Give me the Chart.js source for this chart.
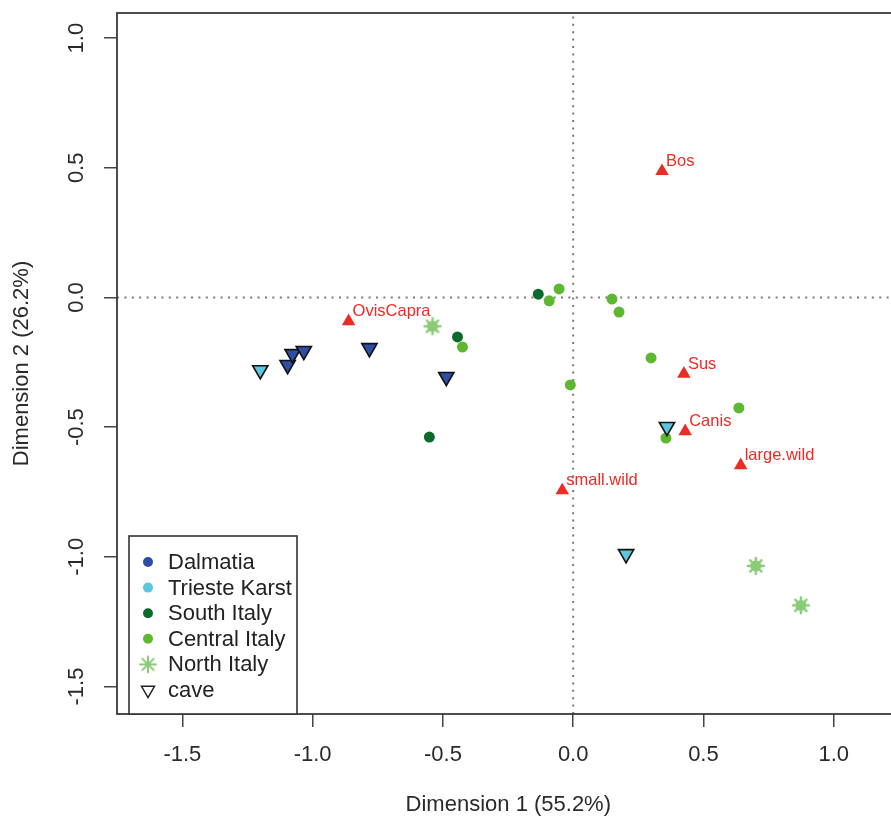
<!DOCTYPE html>
<html>
<head>
<meta charset="utf-8">
<script src="https://cdn.jsdelivr.net/npm/chart.js@4.4.0/dist/chart.umd.min.js"></script>
<style>
  html, body { margin: 0; padding: 0; background: #fff; overflow: hidden; }
  #wrap { width: 891px; height: 821px; overflow: hidden; }
</style>
</head>
<body>
<div id="wrap"><canvas id="mcaChart" width="910" height="821"></canvas></div>
<script>
    "use strict";

    // axes
    var xTicks = [-1.5, -1.0, -0.5, 0.0, 0.5, 1.0];
    var yTicks = [-1.5, -1.0, -0.5, 0.0, 0.5, 1.0];
    var xLimits = [-1.751, 1.253];
    var yLimits = [-1.606, 1.097];

    // sites
    var dalmatiaCaveX = [-1.096, -1.077, -1.034, -0.782, -0.487];
    var dalmatiaCaveY = [-0.260, -0.218, -0.206, -0.195, -0.306];
    var triesteCaveX = [-1.201, 0.360, 0.203];
    var triesteCaveY = [-0.280, -0.499, -0.989];
    var southItalyX = [-0.444, -0.552, -0.134];
    var southItalyY = [-0.152, -0.538, 0.013];
    var centralItalyX = [-0.425, -0.092, -0.054, 0.149, 0.176, 0.299, -0.011, 0.636, 0.356];
    var centralItalyY = [-0.191, -0.013, 0.033, -0.006, -0.056, -0.233, -0.337, -0.426, -0.542];
    var northItalyX = [-0.540, 0.701, 0.874];
    var northItalyY = [-0.111, -1.035, -1.187];

    // variables
    var varNames = ['Bos', 'OvisCapra', 'Sus', 'Canis', 'large.wild', 'small.wild'];
    var varX = [0.341, -0.862, 0.425, 0.430, 0.643, -0.042];
    var varY = [0.487, -0.092, -0.294, -0.516, -0.647, -0.744];

    // legend
    var legendLabels = ['Dalmatia', 'Trieste Karst', 'South Italy', 'Central Italy', 'North Italy', 'cave'];
    var legendShapes = ['circle', 'circle', 'circle', 'circle', 'star', 'cave'];

    var COLORS = {
        dalmatia: '#2E4EA6',
        trieste: '#5CC6DC',
        south: '#0D6A2D',
        central: '#5DB731',
        north: '#8BCB78',
        red: '#EC2B25',
        ink: '#333333'
    };
    var legendColors = [COLORS.dalmatia, COLORS.trieste, COLORS.south, COLORS.central, COLORS.north, '#222'];
    var FONT = 'Liberation Sans, Arial, Helvetica, sans-serif';

    function toPoints(xs, ys) {
        return xs.map(function (x, i) { return {x: x, y: ys[i]}; });
    }

    function makeStar(color, rCore, rSpike, lw) {
        var c = document.createElement('canvas');
        var s = Math.ceil(rSpike * 2 + 4);
        c.width = s;
        c.height = s;
        var g = c.getContext('2d');
        var m = s / 2;
        g.strokeStyle = color;
        g.fillStyle = color;
        g.lineWidth = lw;
        g.lineCap = 'round';
        for (var k = 0; k < 8; k++) {
            var a = k * Math.PI / 4;
            g.beginPath();
            g.moveTo(m, m);
            g.lineTo(m + rSpike * Math.cos(a), m + rSpike * Math.sin(a));
            g.stroke();
        }
        if (rCore > 0) {
            g.beginPath();
            g.arc(m, m, rCore, 0, 2 * Math.PI);
            g.fill();
        }
        return c;
    }

    var starPoint = makeStar(COLORS.north, 5.5, 8, 2.4);

    function caveSet(label, xs, ys, color, order) {
        return {
            label: label,
            data: toPoints(xs, ys),
            pointStyle: 'triangle',
            rotation: 180,
            pointRadius: 8.8,
            backgroundColor: color,
            borderColor: '#111',
            borderWidth: 1.6,
            order: order
        };
    }

    function dotsSet(label, xs, ys, color, order) {
        return {
            label: label,
            data: toPoints(xs, ys),
            pointStyle: 'circle',
            pointRadius: 5.5,
            backgroundColor: color,
            borderColor: color,
            borderWidth: 0,
            order: order
        };
    }

    function refLine(pts) {
        return {
            type: 'line',
            data: pts,
            borderColor: '#7a7a7a',
            borderWidth: 2,
            borderDash: [2, 5.4],
            pointRadius: 0,
            fill: false,
            order: 9
        };
    }

    var datasets = [
        {
            label: 'variables',
            data: toPoints(varX, varY),
            pointStyle: 'triangle',
            pointRadius: 7.8,
            backgroundColor: COLORS.red,
            borderColor: COLORS.red,
            borderWidth: 0,
            order: 0
        },
        caveSet('Trieste Karst cave', triesteCaveX, triesteCaveY, COLORS.trieste, 1),
        caveSet('Dalmatia cave', dalmatiaCaveX, dalmatiaCaveY, COLORS.dalmatia, 2),
        {
            label: 'North Italy',
            data: toPoints(northItalyX, northItalyY),
            pointStyle: starPoint,
            pointRadius: 8,
            order: 3
        },
        dotsSet('Central Italy', centralItalyX, centralItalyY, COLORS.central, 4),
        dotsSet('South Italy', southItalyX, southItalyY, COLORS.south, 5),
        refLine([{x: xLimits[0], y: 0}, {x: xLimits[1], y: 0}]),
        refLine([{x: 0, y: yLimits[0]}, {x: 0, y: yLimits[1]}])
    ];

    var boxPlugin = {
        id: 'plotBox',
        afterDatasetsDraw: function (chart) {
            var a = chart.chartArea;
            var ctx = chart.ctx;
            ctx.save();
            ctx.strokeStyle = '#3a3a3a';
            ctx.lineWidth = 1.8;
            ctx.strokeRect(a.left, a.top, a.right - a.left, a.bottom - a.top);
            ctx.restore();
        }
    };

    var varLabelPlugin = {
        id: 'varLabels',
        afterDatasetsDraw: function (chart) {
            var meta = chart.getDatasetMeta(0);
            var ctx = chart.ctx;
            ctx.save();
            ctx.font = '16.5px ' + FONT;
            ctx.fillStyle = COLORS.red;
            ctx.textAlign = 'left';
            ctx.textBaseline = 'alphabetic';
            meta.data.forEach(function (pt, i) {
                ctx.fillText(varNames[i], pt.x + 4, pt.y - 5);
            });
            ctx.restore();
        }
    };

    var legendStar = makeStar(COLORS.north, 0, 8, 2);

    var legendPlugin = {
        id: 'boxLegend',
        afterDraw: function (chart) {
            var a = chart.chartArea;
            var ctx = chart.ctx;
            var left = a.left + 12, top = 536, right = left + 168, bottom = a.bottom;
            var rowH = 25.6;
            ctx.save();
            ctx.fillStyle = '#fff';
            ctx.fillRect(left, top, right - left, bottom - top);
            ctx.strokeStyle = '#333';
            ctx.lineWidth = 1.6;
            ctx.strokeRect(left, top, right - left, bottom - top);
            ctx.font = '22px ' + FONT;
            ctx.textBaseline = 'middle';
            ctx.textAlign = 'left';
            legendLabels.forEach(function (lab, i) {
                var cy = top + 26 + i * rowH;
                var cx = left + 19;
                var col = legendColors[i];
                if (legendShapes[i] === 'circle') {
                    ctx.fillStyle = col;
                    ctx.beginPath();
                    ctx.arc(cx, cy, 5, 0, 2 * Math.PI);
                    ctx.fill();
                } else if (legendShapes[i] === 'star') {
                    ctx.drawImage(legendStar, cx - legendStar.width / 2, cy - legendStar.height / 2);
                } else {
                    var r = 7.5;
                    ctx.strokeStyle = col;
                    ctx.lineWidth = 1.5;
                    ctx.beginPath();
                    ctx.moveTo(cx, cy + r);
                    ctx.lineTo(cx + r * 0.866, cy - r * 0.5);
                    ctx.lineTo(cx - r * 0.866, cy - r * 0.5);
                    ctx.closePath();
                    ctx.stroke();
                }
                ctx.fillStyle = '#222';
                ctx.fillText(lab, left + 39, cy + 1);
            });
            ctx.restore();
        }
    };

    var ctx = document.getElementById('mcaChart').getContext('2d');
    new Chart(ctx, {
        type: 'scatter',
        data: {datasets: datasets},
        options: {
            responsive: false,
            animation: false,
            events: [],
            layout: {padding: {top: 13, right: 9, left: 0, bottom: 0}},
            plugins: {
                legend: {display: false},
                tooltip: {enabled: false}
            },
            scales: {
                x: {
                    type: 'linear',
                    position: 'bottom',
                    min: xLimits[0],
                    max: xLimits[1],
                    afterBuildTicks: function (s) {
                        s.ticks = xTicks.map(function (v) { return {value: v}; });
                    },
                    afterFit: function (s) {
                        s.height = 107;
                        s.paddingLeft = 0;
                        s.paddingRight = 0;
                    },
                    grid: {drawOnChartArea: false, drawTicks: true, tickLength: 13, color: '#444', lineWidth: 1.5},
                    border: {display: false},
                    ticks: {
                        font: {family: FONT, size: 22},
                        color: '#2a2a2a',
                        padding: 15,
                        maxRotation: 0,
                        autoSkip: false,
                        callback: function (v) { return Number(v).toFixed(1); }
                    },
                    title: {
                        display: true,
                        text: 'Dimension 1 (55.2%)',
                        font: {family: FONT, size: 22},
                        color: '#2a2a2a',
                        padding: {top: 0, bottom: 3}
                    }
                },
                y: {
                    type: 'linear',
                    position: 'left',
                    min: yLimits[0],
                    max: yLimits[1],
                    afterBuildTicks: function (s) {
                        s.ticks = yTicks.map(function (v) { return {value: v}; });
                    },
                    afterFit: function (s) {
                        s.width = 117;
                        s.paddingTop = 0;
                        s.paddingBottom = 0;
                    },
                    grid: {drawOnChartArea: false, drawTicks: true, tickLength: 13, color: '#444', lineWidth: 1.5},
                    border: {display: false},
                    ticks: {
                        font: {family: FONT, size: 22},
                        color: '#2a2a2a',
                        padding: 8,
                        minRotation: 90,
                        maxRotation: 90,
                        crossAlign: 'center',
                        autoSkip: false,
                        callback: function (v) { return Number(v).toFixed(1); }
                    },
                    title: {
                        display: true,
                        text: 'Dimension 2 (26.2%)',
                        font: {family: FONT, size: 22},
                        color: '#2a2a2a',
                        padding: {top: 9, bottom: 0}
                    }
                }
            }
        },
        plugins: [boxPlugin, varLabelPlugin, legendPlugin]
    });
</script>
</body>
</html>
